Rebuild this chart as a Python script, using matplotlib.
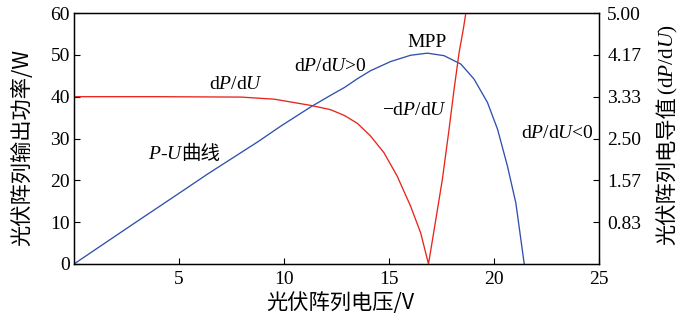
import matplotlib
matplotlib.use("Agg")
import matplotlib.pyplot as plt

plt.rcParams['font.family'] = ['Liberation Serif', 'Noto Sans CJK SC']
plt.rcParams['mathtext.fontset'] = 'custom'
plt.rcParams['mathtext.rm'] = 'Liberation Serif'
plt.rcParams['mathtext.it'] = 'Liberation Serif:italic'

# P-U curve (W vs V)
pu_v = [0, 1.59, 2.86, 5.09, 6.36, 8.75, 9.86, 11.29, 12.21, 12.88, 13.5, 14.12,
        15.08, 16.03, 16.83, 17.62, 18.42, 19.05, 19.69, 20.17, 20.64, 21.04, 21.44]
pu_p = [0, 5.4, 9.7, 17.2, 21.5, 29.2, 33.0, 37.6, 40.3, 42.2, 44.3, 46.2,
        48.4, 49.9, 50.4, 49.8, 47.8, 44.2, 38.6, 32.2, 23.4, 14.6, 0]

# |dP/dU| curve (conductance units, right axis 0..5)
dp_v = [0, 4, 7.95, 9.54, 11.29, 12.21, 12.88, 13.5, 14.12, 14.76, 15.39, 16.03,
        16.51, 16.88, 17.15, 17.54, 17.86, 18.1, 18.34, 18.54, 18.66]
dp_g = [3.333, 3.333, 3.325, 3.283, 3.158, 3.075, 2.958, 2.8, 2.55, 2.217,
        1.75, 1.15, 0.617, 0.0, 0.683, 1.683, 2.683, 3.483, 4.217, 4.683, 5.0]

x_ticks = [5, 10, 15, 20, 25]
x_ticklabels = ['5', '10', '15', '20', '25']
left_ticks = [0, 10, 20, 30, 40, 50, 60]
right_ticks = [5/6, 10/6, 15/6, 20/6, 25/6, 5.0]
right_ticklabels = ['0.83', '1.57', '2.50', '3.33', '4.17', '5.00']

BLUE = '#3050b0'
RED = '#e8251b'
CJK = ['Noto Sans CJK SC', 'Liberation Serif']
W, H = 692, 322

fig = plt.figure(figsize=(6.92, 3.22), dpi=100)
ax = fig.add_axes([74/W, 1 - 264/H, (599-74)/W, (264-13)/H])
ax.plot(pu_v, pu_p, color=BLUE, lw=0.95)
ax.set_xlim(0, 25)
ax.set_ylim(0, 60)
ax.set_xticks(x_ticks)
ax.set_xticklabels(x_ticklabels)
ax.set_yticks(left_ticks)
ax.tick_params(direction='in', length=4, width=0.8, labelsize=14)
ax.tick_params(axis='x', pad=5)
ax.tick_params(axis='y', pad=3)
for s in ax.spines.values():
    s.set_linewidth(1.0)

ax2 = ax.twinx()
ax2.plot(dp_v, dp_g, color=RED, lw=0.95)
ax2.set_ylim(0, 5)
ax2.set_yticks(right_ticks)
ax2.set_yticklabels(right_ticklabels)
ax2.tick_params(direction='in', length=4, width=0.8, labelsize=14, pad=6)

# axis labels
fig.text(340/W, 1 - 303/H, '光伏阵列电压/V', fontsize=15.3, family=CJK,
         ha='center', va='center')
fig.text(22/W, 1 - 147/H, '光伏阵列输出功率/W', fontsize=15.3, family=CJK,
         ha='center', va='center', rotation=90)
t1 = fig.text(668/W, 1 - 245/H, '光伏阵列电导值', fontsize=15.3, family=CJK,
              ha='center', va='bottom', rotation=90)
fig.canvas.draw()
bb = t1.get_window_extent()
fig.text(668/W, (bb.y1 + 1) / H, '(d$P$/d$U$)', fontsize=15.3,
         ha='center', va='bottom', rotation=90)

fs = 14
ax.text(7.7, 43, 'd$P$/d$U$', fontsize=fs, ha='center', va='center')
ax.text(12.2, 47.2, 'd$P$/d$U$>0', fontsize=fs, ha='center', va='center')
ax.text(16.8, 53.0, 'MPP', fontsize=fs, ha='center', va='center')
ax.text(16.2, 36.8, '−d$P$/d$U$', fontsize=fs, ha='center', va='center')
ax.text(23.0, 31.3, 'd$P$/d$U$<0', fontsize=fs, ha='center', va='center')
ax.text(5.2, 25.0, '$P$-$U$', fontsize=fs, ha='right', va='baseline')
ax.text(5.08, 25.0, '曲线', fontsize=fs, family=CJK, ha='left', va='baseline')

fig.savefig('out.png', dpi=100)
